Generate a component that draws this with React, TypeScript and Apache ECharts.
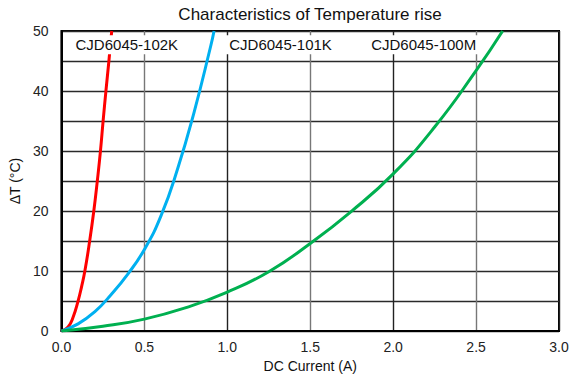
import React, { useEffect, useRef } from "react";
import * as echarts from "echarts";

const seriesNames = ["CJD6045-102K", "CJD6045-101K", "CJD6045-100M"];
const seriesColors = ["#ff0000", "#00b0f0", "#00b050"];

const red102K: [number, number][] = [
  [0, 0], [0.04, 0.7], [0.07, 2.3], [0.1, 5], [0.122, 7.5], [0.141, 10],
  [0.17, 15], [0.195, 20], [0.216, 25], [0.235, 30], [0.251, 35],
  [0.268, 40], [0.286, 45], [0.303, 50],
];
const blue101K: [number, number][] = [
  [0, 0], [0.1, 1.2], [0.2, 3.2], [0.3, 6.1], [0.4, 9.5], [0.5, 13.6],
  [0.6, 19.2], [0.7, 27], [0.8, 36.5], [0.9, 47.5], [0.92, 50],
];
const green100M: [number, number][] = [
  [0, 0], [0.25, 0.8], [0.5, 2.0], [0.75, 3.9], [1.0, 6.5], [1.25, 9.9],
  [1.5, 14.6], [1.75, 20.0], [2.0, 26.2], [2.25, 34.0], [2.5, 43.4], [2.66, 50],
];

const labelX = [0.394, 1.321, 2.184];
const labelY = 47.7;

const titleText = "Characteristics of Temperature rise";
const xName = "DC Current (A)";
const yName = "ΔT (°C)";

const FONT = '"Liberation Sans", Arial, Helvetica, sans-serif';

export default function App() {
  const ref = useRef<HTMLDivElement>(null);
  useEffect(() => {
    if (!ref.current) return;
    const chart = echarts.init(ref.current, null, { renderer: "svg" });
    const data = [red102K, blue101K, green100M];
    chart.setOption({
      animation: false,
      backgroundColor: "#ffffff",
      textStyle: { fontFamily: FONT },
      title: {
        text: titleText,
        left: 310,
        textAlign: "center",
        top: 6,
        padding: 0,
        textStyle: { fontSize: 17, fontWeight: "normal", color: "#111", fontFamily: FONT },
      },
      grid: {
        left: 57,
        right: 14,
        top: 31,
        bottom: 45,
        show: true,
        borderColor: "#000",
        borderWidth: 2,
        backgroundColor: "transparent",
      },
      xAxis: {
        type: "value",
        min: 0,
        max: 3,
        interval: 0.5,
        name: xName,
        nameLocation: "middle",
        nameGap: 26,
        nameTextStyle: { fontSize: 14, color: "#111", fontFamily: FONT },
        axisLine: { show: true, lineStyle: { color: "#000", width: 2 } },
        axisTick: { show: false },
        axisLabel: {
          fontSize: 14,
          color: "#222",
          margin: 9,
          fontFamily: FONT,
          formatter: (v: number) => v.toFixed(1),
        },
        splitLine: { show: true, lineStyle: { color: ["#222", "#777"], width: 1.4 } },
      },
      yAxis: {
        type: "value",
        min: 0,
        max: 50,
        interval: 5,
        name: yName,
        nameLocation: "middle",
        nameGap: 28,
        nameTextStyle: { fontSize: 14, color: "#111", fontFamily: FONT },
        axisLine: { show: true, lineStyle: { color: "#000", width: 2 } },
        axisTick: { show: false },
        axisLabel: {
          fontSize: 14,
          color: "#222",
          margin: 13,
          fontFamily: FONT,
          formatter: (v: number) => (v % 10 === 0 ? String(v) : ""),
        },
        splitLine: { show: true, lineStyle: { color: "#2a2a2a", width: 1.4 } },
      },
      series: seriesNames.map((name, i) => ({
        name,
        type: "line",
        data: data[i],
        smooth: 0.5,
        showSymbol: false,
        symbol: "none",
        lineStyle: { color: seriesColors[i], width: 3 },
        z: 3,
      })),
    });
    const graphics = seriesNames.map((name, i) => {
      const p = chart.convertToPixel({ gridIndex: 0 }, [labelX[i], labelY]) as number[];
      return {
        type: "text",
        z: 100,
        x: p[0],
        y: p[1],
        style: {
          text: name,
          font: `15px ${FONT}`,
          fill: "#111",
          textAlign: "center",
          textVerticalAlign: "middle",
          align: "center",
          verticalAlign: "middle",
          backgroundColor: "#ffffff",
          padding: [4, 4, 0, 4],
        },
      };
    });
    chart.setOption({ graphic: graphics });
    return () => chart.dispose();
  }, []);
  return (
    <div
      ref={ref}
      style={{ position: "fixed", left: 0, top: 0, width: 573, height: 378, background: "#fff" }}
    />
  );
}
